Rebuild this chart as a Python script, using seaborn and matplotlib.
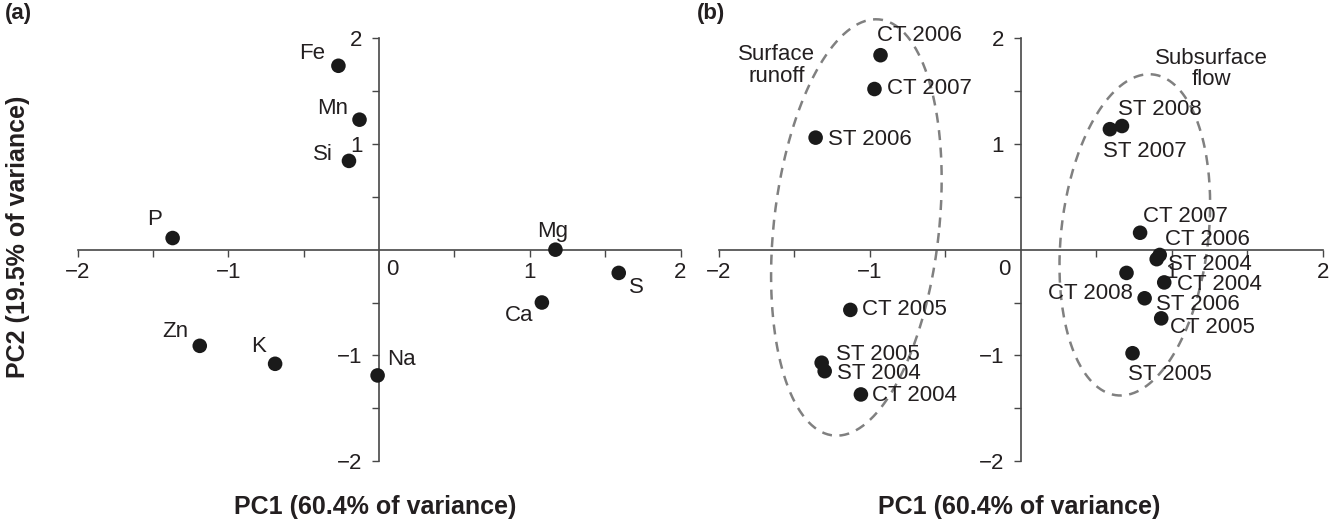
import numpy as np
import pandas as pd
import matplotlib
matplotlib.use("Agg")
import matplotlib.pyplot as plt
import seaborn as sns
from matplotlib.ticker import FixedLocator

# panel (a): element loadings
elements = ["Fe", "Mn", "Si", "P", "Mg", "S", "Ca", "Zn", "K", "Na"]
elem_pc1 = [-0.27, -0.13, -0.20, -1.37, 1.17, 1.59, 1.08, -1.19, -0.69, -0.01]
elem_pc2 = [1.74, 1.23, 0.84, 0.11, 0.00, -0.22, -0.50, -0.91, -1.08, -1.19]

# panel (b): sample scores
samples = ["CT 2006", "CT 2007", "ST 2006", "CT 2005", "ST 2005", "ST 2004", "CT 2004",
           "ST 2008", "ST 2007", "CT 2007", "CT 2006", "ST 2004", "CT 2008", "CT 2004",
           "ST 2006", "CT 2005", "ST 2005"]
flow = ["Surface runoff"] * 7 + ["Subsurface flow"] * 10
samp_pc1 = [-0.93, -0.97, -1.36, -1.13, -1.32, -1.30, -1.06,
            0.67, 0.59, 0.79, 0.92, 0.90, 0.70, 0.95, 0.82, 0.93, 0.74]
samp_pc2 = [1.84, 1.52, 1.06, -0.57, -1.07, -1.15, -1.37,
            1.17, 1.14, 0.16, -0.05, -0.09, -0.22, -0.31, -0.46, -0.65, -0.98]

ticks = [-2, -1, 1, 2]
xlabel = "PC1 (60.4% of variance)"
ylabel = "PC2 (19.5% of variance)"

# label placement (pixels: dx, dy, ha)
elem_pos = [(-13, 12, "right"), (-11, 11, "right"), (-16, 6, "right"), (-11, 19, "right"),
            (-3, 18, "center"), (10, -15, "left"), (-9, -13, "right"), (-11, 14, "right"),
            (-9, 17, "right"), (10, 16, "left")]
samp_pos = [(-4, 20, "left"), (13, 1, "left"), (12, -2, "left"), (12, 0, "left"),
            (14, 8, "left"), (12, -2, "left"), (11, -1, "left"),
            (-4, 17, "left"), (-7, -22, "left"), (3, 16, "left"), (5, 15, "left"),
            (11, -5, "left"), (6, -21, "right"), (13, -2, "left"), (11, -6, "left"),
            (9, -9, "left"), (-5, -21, "left")]

sns.set_style("white")
plt.rcParams["font.family"] = ["Liberation Sans", "DejaVu Sans"]
ink = "#231f20"
axis_col = "#474747"
fs = 16

fig = plt.figure(figsize=(13.37, 5.29), dpi=100)
ax_a = fig.add_axes([0.0581, 0.1285, 0.4509, 0.7991])
ax_b = fig.add_axes([0.5378, 0.1285, 0.4515, 0.7991])


def style_axes(ax, zero_dx):
    ax.set_xlim(-2, 2)
    ax.set_ylim(-2, 2)
    for s in ["top", "right"]:
        ax.spines[s].set_visible(False)
    for s in ["left", "bottom"]:
        ax.spines[s].set_position(("data", 0))
        ax.spines[s].set_color(axis_col)
        ax.spines[s].set_linewidth(1.2)
    ax.set_xticks(ticks)
    ax.set_yticks(ticks)
    ax.xaxis.set_minor_locator(FixedLocator([-1.5, -0.5, 0.5, 1.5]))
    ax.yaxis.set_minor_locator(FixedLocator([-1.5, -0.5, 0.5, 1.5]))
    ax.tick_params(which="both", direction="out", length=5, width=1, color=axis_col,
                   labelsize=fs, labelcolor=ink, bottom=True, left=True)
    ax.tick_params(axis="x", pad=4)
    ax.tick_params(axis="y", pad=7)
    ax.set_xlabel("")
    ax.set_ylabel("")
    ax.annotate("0", xy=(0, 0), xytext=(zero_dx * 0.72, -20 * 0.72), textcoords="offset points",
                ha="center", va="center", fontsize=fs, color=ink)


def label_points(ax, names, xs, ys, pos):
    for name, x, y, (dx, dy, ha) in zip(names, xs, ys, pos):
        ax.annotate(name, xy=(x, y), xytext=(dx * 0.72, dy * 0.72), textcoords="offset points",
                    ha=ha, va="center", fontsize=fs, color=ink, annotation_clip=False)


df_a = pd.DataFrame({"pc1": elem_pc1, "pc2": elem_pc2, "name": elements})
sns.scatterplot(data=df_a, x="pc1", y="pc2", ax=ax_a, color="#1a1a1a", s=110,
                edgecolor="none", clip_on=False, zorder=3)
style_axes(ax_a, 13)
label_points(ax_a, elements, elem_pc1, elem_pc2, elem_pos)

df_b = pd.DataFrame({"pc1": samp_pc1, "pc2": samp_pc2, "name": samples, "flow": flow})
sns.scatterplot(data=df_b, x="pc1", y="pc2", ax=ax_b, color="#1a1a1a", s=110,
                edgecolor="none", clip_on=False, zorder=3)
style_axes(ax_b, -17)
label_points(ax_b, samples, samp_pc1, samp_pc2, samp_pos)

# dashed grouping ellipses
t = np.linspace(0, 2 * np.pi, 300)
for cx, cy, a, b, h in [(-1.09, 0.21, 0.55, 0.13, 1.97), (0.755, 0.14, 0.49, 0.095, 1.52)]:
    ax_b.plot(cx + a * np.cos(t) + b * np.sin(t), cy + h * np.sin(t),
              ls=(0, (4, 3)), color="#808080", lw=1.8, clip_on=False, zorder=1)
ax_b.text(-1.62, 1.74, "Surface\nrunoff", ha="center", va="center", fontsize=fs,
          color=ink, linespacing=1.05)
ax_b.text(1.26, 1.71, "Subsurface\nflow", ha="center", va="center", fontsize=fs,
          color=ink, linespacing=1.05)

fig.text(0.004, 0.995, "(a)", ha="left", va="top", fontsize=16, fontweight="bold", color=ink)
fig.text(0.521, 0.995, "(b)", ha="left", va="top", fontsize=16, fontweight="bold", color=ink)
fig.text(0.2805, 0.0416, xlabel, ha="center", va="center", fontsize=18, fontweight="bold", color=ink)
fig.text(0.762, 0.0416, xlabel, ha="center", va="center", fontsize=18, fontweight="bold", color=ink)
fig.text(0.0135, 0.552, ylabel, ha="center", va="center", rotation=90, fontsize=18,
         fontweight="bold", color=ink)

fig.savefig("out.png", dpi=100)
